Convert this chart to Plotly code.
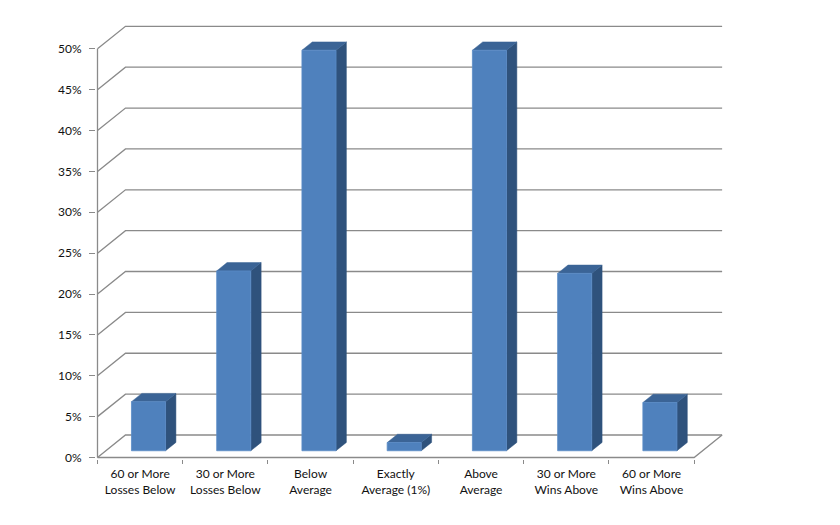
import plotly.graph_objects as go

# ---- data ----
categories = [
    "60 or More<br>Losses Below",
    "30 or More<br>Losses Below",
    "Below<br>Average",
    "Exactly<br>Average (1%)",
    "Above<br>Average",
    "30 or More<br>Wins Above",
    "60 or More<br>Wins Above",
]
values = [6.0, 22.0, 49.0, 1.0, 49.0, 21.7, 5.9]
y_ticks = [0, 5, 10, 15, 20, 25, 30, 35, 40, 45, 50]
y_tick_labels = [f"{v}%" for v in y_ticks]

# ---- styling / geometry (oblique 3-D look) ----
W, H = 832, 517      # page body has an 8px margin
PX_X = 85.3          # pixels per category
PX_Y = 8.17          # pixels per percent
DX = 28 / PX_X       # wall depth offset (x units)
DY = 22.5 / PX_Y     # wall depth offset (y units)
F0 = 0.30            # bar front position within depth
FD = 0.37            # bar depth fraction
BW = 0.40            # bar width (categories)
GRID = "#8a8a8a"
FRONT = "#4F81BD"
TOP = "#3B6496"
SIDE = "#2F527C"
FONT = "Lato"
TXT = "#111111"

AX_X = 89.0          # pixel x of front vertical axis (figure coords)
AX_Y = 449.3         # pixel y of 0% on the front axis (figure coords)
ML = AX_X - 1.5
MB = H - (AX_Y + 1.5)
MT, MR = 4, 95
n = len(categories)
x0 = -0.5 - (AX_X - ML) / PX_X
x1 = x0 + (W - ML - MR) / PX_X
y0 = -1.5 / PX_Y
y1 = y0 + (H - MT - MB) / PX_Y

fig = go.Figure()

# back wall gridlines (with diagonal to the front axis)
gx, gy = [], []
for v in y_ticks:
    gx += [-0.5, -0.5 + DX, n - 0.5 + DX, None]
    gy += [v, v + DY, v + DY, None]
# floor front edge and right edge
gx += [-0.5, n - 0.5, n - 0.5 + DX, None]
gy += [0, 0, DY, None]
# front vertical axis
gx += [-0.5, -0.5]
gy += [0, y_ticks[-1]]
fig.add_trace(go.Scatter(x=gx, y=gy, mode="lines",
                         line=dict(color=GRID, width=1.3),
                         hoverinfo="skip", showlegend=False))

fx, fy, tx, ty, sx, sy = [], [], [], [], [], []
for i, v in enumerate(values):
    c = i + F0 * DX
    b = F0 * DY
    L, R = c - BW / 2, c + BW / 2
    T = b + v
    ddx, ddy = FD * DX, FD * DY
    fx += [L, R, R, L, L, None]
    fy += [b, b, T, T, b, None]
    tx += [L, R, R + ddx, L + ddx, L, None]
    ty += [T, T, T + ddy, T + ddy, T, None]
    sx += [R, R + ddx, R + ddx, R, R, None]
    sy += [b, b + ddy, T + ddy, T, b, None]

fig.add_trace(go.Scatter(x=sx, y=sy, fill="toself", fillcolor=SIDE, mode="lines",
                         line=dict(color=SIDE, width=0.5), hoverinfo="skip", showlegend=False))
fig.add_trace(go.Scatter(x=tx, y=ty, fill="toself", fillcolor=TOP, mode="lines",
                         line=dict(color=TOP, width=0.5), hoverinfo="skip", showlegend=False))
fig.add_trace(go.Scatter(x=fx, y=fy, fill="toself", fillcolor=FRONT, mode="lines",
                         line=dict(color="#5A8BC6", width=0.8), hoverinfo="skip", showlegend=False))
# invisible trace so the boundary-tick axis is drawn
fig.add_trace(go.Scatter(x=[-0.5], y=[0], xaxis="x2", mode="markers",
                         marker=dict(opacity=0), hoverinfo="skip", showlegend=False))

fig.update_layout(
    width=W, height=H,
    paper_bgcolor="white", plot_bgcolor="white",
    margin=dict(l=ML, r=MR, t=MT, b=MB, autoexpand=False),
    font=dict(family=FONT, size=12, color=TXT),
    xaxis=dict(range=[x0, x1], tickvals=list(range(n)), ticktext=categories,
               ticks="", showgrid=False, zeroline=False, showline=False,
               automargin=False, ticklabelstandoff=6,
               tickfont=dict(family=FONT, size=12, color=TXT)),
    xaxis2=dict(range=[x0, x1], overlaying="x", anchor="y", side="bottom",
                tickvals=[k - 0.5 for k in range(n + 1)], showticklabels=False,
                ticks="outside", ticklen=4, tickwidth=1.2, tickcolor=GRID,
                showgrid=False, zeroline=False, showline=False, automargin=False),
    yaxis=dict(range=[y0, y1], tickvals=y_ticks, ticktext=y_tick_labels,
               ticks="outside", ticklen=6, tickwidth=1.2, tickcolor=GRID,
               showgrid=False, zeroline=False, showline=False, automargin=False,
               ticklabelstandoff=5,
               tickfont=dict(family=FONT, size=12, color=TXT)),
)

fig.write_html("out.html")
